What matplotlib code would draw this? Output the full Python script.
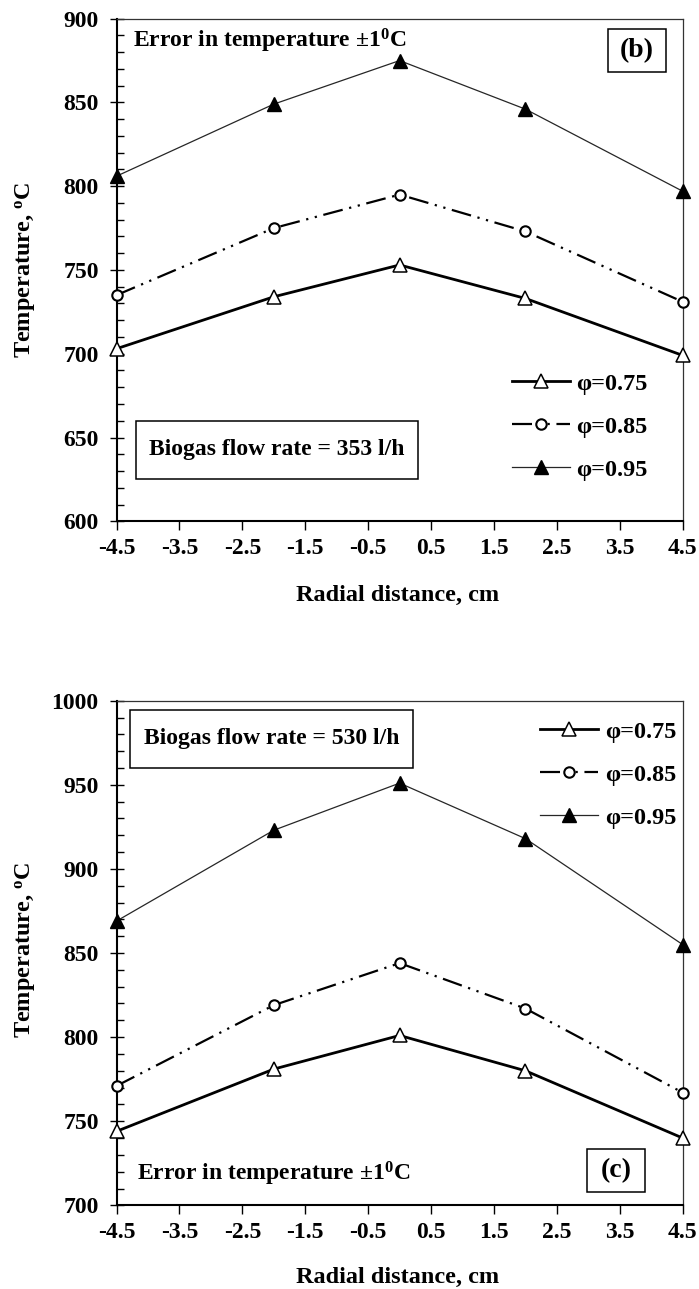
import matplotlib
matplotlib.use("Agg")
import matplotlib.pyplot as plt
from matplotlib.patches import Rectangle
from matplotlib.ticker import MultipleLocator

plt.rcParams['font.family'] = ['Liberation Serif', 'DejaVu Serif']
plt.rcParams['font.weight'] = 'bold'
plt.rcParams['mathtext.fontset'] = 'custom'
plt.rcParams['mathtext.rm'] = 'Liberation Serif:bold'
plt.rcParams['mathtext.it'] = 'Liberation Serif:bold'
plt.rcParams['mathtext.bf'] = 'Liberation Serif:bold'

# Radial positions of the thermocouples (cm)
radial_cm = [-4.5, -2.0, 0.0, 2.0, 4.5]
phi_labels = ['φ=0.75', 'φ=0.85', 'φ=0.95']

# Biogas flow rate 353 l/h: temperature (°C)
t353_phi075 = [703, 734, 753, 733, 699]
t353_phi085 = [735, 775, 795, 773, 731]
t353_phi095 = [806, 849, 875, 846, 797]

# Biogas flow rate 530 l/h: temperature (°C)
t530_phi075 = [744, 781, 801, 780, 740]
t530_phi085 = [771, 819, 844, 817, 767]
t530_phi095 = [869, 923, 951, 918, 855]

x_ticks = [-4.5, -3.5, -2.5, -1.5, -0.5, 0.5, 1.5, 2.5, 3.5, 4.5]
x_ticklabels = ['-4.5', '-3.5', '-2.5', '-1.5', '-0.5', '0.5', '1.5', '2.5', '3.5', '4.5']

series_styles = [
    dict(color='black', lw=2.0, ls='-', marker='^', mfc='white', mec='black', ms=10, mew=1.1),
    dict(color='black', lw=1.6, ls=(0, (9, 3, 1, 3, 1, 3)), marker='o', mfc='white',
         mec='black', ms=7.5, mew=1.5),
    dict(color='#262626', lw=0.9, ls='-', marker='^', mfc='black', mec='black', ms=10, mew=1.0),
]

TICK_FS = 17
LABEL_FS = 17.5
NOTE_FS = 17
LEG_FS = 17.5


def style_axes(ax, ylo, yhi):
    ax.set_xlim(-4.5, 4.5)
    ax.set_ylim(ylo, yhi)
    ax.set_xticks(x_ticks)
    ax.set_xticklabels(x_ticklabels)
    ax.yaxis.set_major_locator(MultipleLocator(50))
    ax.yaxis.set_minor_locator(MultipleLocator(10))
    ax.tick_params(axis='y', which='major', direction='inout', length=9.6, width=1.0,
                   labelsize=TICK_FS, pad=8)
    ax.tick_params(axis='y', which='minor', direction='in', length=4.8, width=1.0)
    ax.tick_params(axis='x', which='major', direction='out', length=6.3, width=1.0,
                   labelsize=TICK_FS, pad=6)
    ax.tick_params(axis='x', which='minor', bottom=False)
    for name in ('left', 'bottom'):
        ax.spines[name].set_linewidth(1.5)
        ax.spines[name].set_color('black')
    for name in ('top', 'right'):
        ax.spines[name].set_linewidth(0.9)
        ax.spines[name].set_color('#333333')
    for lbl in ax.get_xticklabels() + ax.get_yticklabels():
        lbl.set_fontweight('bold')


def draw_series(ax, values):
    handles = []
    for vals, st, lab in zip(values, series_styles, phi_labels):
        h, = ax.plot(radial_cm, vals, label=lab, clip_on=False, zorder=3,
                     color=st['color'], lw=st['lw'], ls=st['ls'], marker=st['marker'],
                     mfc=st['mfc'], mec=st['mec'], ms=st['ms'], mew=st['mew'])
        handles.append(h)
    return handles


def boxed_text(ax, x0, y0, x1, y1, text, fs):
    ax.add_patch(Rectangle((x0, y0), x1 - x0, y1 - y0, transform=ax.transAxes,
                           fill=False, edgecolor='black', lw=1.1, zorder=4))
    ax.text((x0 + x1) / 2, (y0 + y1) / 2, text, transform=ax.transAxes,
            ha='center', va='center', fontsize=fs, fontweight='bold', zorder=5)


def add_legend(ax, anchor):
    ax.legend(loc='center left', bbox_to_anchor=anchor, frameon=False,
              fontsize=LEG_FS, handlelength=2.39, handletextpad=0.28, labelspacing=0.86,
              borderpad=0, borderaxespad=0)


fig = plt.figure(figsize=(6.99, 12.89), dpi=100)
fig.patch.set_facecolor('white')

# Upper panel: 353 l/h
ax1 = fig.add_axes([0.1667, 0.5956, 0.810, 0.3899])
style_axes(ax1, 600, 900)
draw_series(ax1, [t353_phi075, t353_phi085, t353_phi095])
add_legend(ax1, (0.698, 0.188))
boxed_text(ax1, 0.0346, 0.0845, 0.5327, 0.1999, 'Biogas flow rate = 353 l/h', NOTE_FS)
boxed_text(ax1, 0.8675, 0.8945, 0.9705, 0.9795, '(b)', 20)
ax1.text(0.029, 0.9417, 'Error in temperature ±1$^{0}$C', transform=ax1.transAxes,
         ha='left', va='baseline', fontsize=NOTE_FS, fontweight='bold')

# Lower panel: 530 l/h
ax2 = fig.add_axes([0.1667, 0.0649, 0.810, 0.3915])
style_axes(ax2, 700, 1000)
draw_series(ax2, [t530_phi075, t530_phi085, t530_phi095])
add_legend(ax2, (0.748, 0.853))
boxed_text(ax2, 0.0238, 0.8667, 0.5236, 0.9817, 'Biogas flow rate = 530 l/h', NOTE_FS)
boxed_text(ax2, 0.8304, 0.0270, 0.9334, 0.1116, '(c)', 20)
ax2.text(0.0357, 0.050, 'Error in temperature ±1$^{0}$C', transform=ax2.transAxes,
         ha='left', va='baseline', fontsize=NOTE_FS, fontweight='bold')

# Axis titles
for ax, ylab_y, xlab_y in ((ax1, 1 - 270 / 1289, 1 - 601 / 1289),
                           (ax2, 1 - 950 / 1289, 1 - 1283 / 1289)):
    fig.text(25 / 699, ylab_y, 'Temperature, $^{\\mathrm{o}}$C', rotation=90,
             ha='center', va='center', fontsize=LABEL_FS, fontweight='bold')
    fig.text(398 / 699, xlab_y, 'Radial distance, cm', ha='center', va='baseline',
             fontsize=LABEL_FS, fontweight='bold')

fig.savefig('out.png', dpi=100, facecolor='white')
